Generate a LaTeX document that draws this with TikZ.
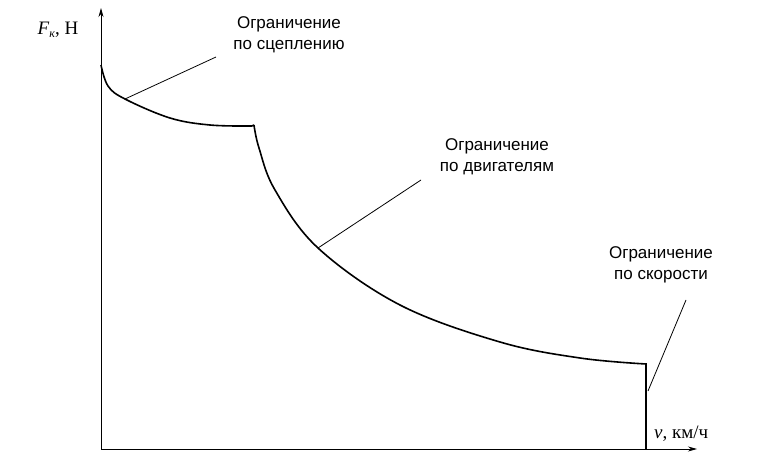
\documentclass[tikz,border=0pt]{standalone}
\usepackage{fontspec}
\usetikzlibrary{arrows.meta}
\setmainfont{Liberation Serif}
\newfontfamily\lab{Liberation Sans}
\begin{document}
\begin{tikzpicture}[x=1pt,y=-1pt,
  lbl/.style={font=\lab\fontsize{17}{21}\selectfont,align=center,inner sep=0},
  ax/.style={font=\fontsize{19}{22}\selectfont,inner sep=0},
  thin/.style={line width=0.8pt}]
\useasboundingbox (0,0) rectangle (763,457);
\coordinate (O) at (101,449);
\coordinate (Ytop) at (101,8);
\coordinate (Xend) at (697,449);
\draw[thin,-{Stealth[length=9pt,width=5pt]}] (O) -- (Ytop);
\draw[thin,-{Stealth[length=9pt,width=5pt]}] (O) -- (Xend);
\node[ax] (F) at (58,30) {\textit{F}\raisebox{-0.4ex}{\fontsize{12}{12}\selectfont\itshape к}, Н};
\node[ax,anchor=west] (v) at (654,434) {\textit{v}, км/ч};
\draw[line width=1.6pt] plot[smooth,tension=0.6] coordinates {(101,65) (108,86) (125,99) (170,118) (210,125) (252,126)};
\draw[line width=1.6pt] (252,126) -- (254,125) plot[smooth,tension=0.6] coordinates {(254,125) (259,148) (275,190) (318,248) (400,305) (500,342) (580,358) (646,364)};
\draw[line width=1.6pt] (646,363) -- (646,449);
\node[lbl] (l1) at (289,35) {Ограничение\\по сцеплению};
\node[lbl] (l2) at (497,157) {Ограничение\\по двигателям};
\node[lbl] (l3) at (661,265) {Ограничение\\по скорости};
\coordinate (p1) at (125,99);
\coordinate (p2) at (318,248);
\coordinate (p3) at (648,391);
\draw[thin] (p1) -- (216,57);
\draw[thin] (p2) -- (421,180);
\draw[thin] (p3) -- (686,300);
\end{tikzpicture}
\end{document}
